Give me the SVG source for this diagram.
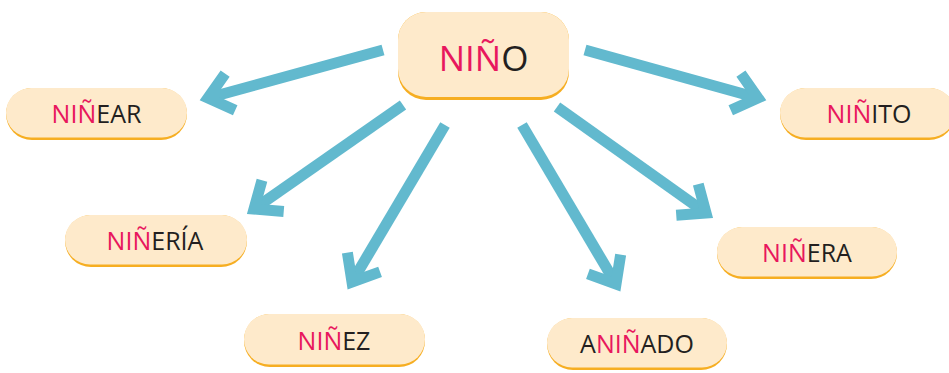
<svg xmlns="http://www.w3.org/2000/svg" width="949" height="373" viewBox="0 0 949 373">
  <style>
    .edge { fill: #F6AE22; }
    .box { fill: #FEEACB; }
    .lbl { font-family: "Open Sans", "Noto Sans", "Liberation Sans", sans-serif; font-size: 25px; fill: #231F20; text-anchor: middle; }
    .big { font-size: 35px; }
    .r { fill: #E8175D; }
    .arrow { fill: none; stroke: #62B9CE; stroke-width: 11; stroke-linejoin: miter; stroke-miterlimit: 10; stroke-linecap: butt; }
  </style>
  <defs>
    <marker id="head" markerUnits="userSpaceOnUse" orient="auto" markerWidth="60" markerHeight="60" refX="0" refY="0" viewBox="-40 -30 60 60" overflow="visible">
      <path d="M -23 -19 L 0 0 L -23 19" fill="none" stroke="#62B9CE" stroke-width="11" stroke-linejoin="miter" stroke-miterlimit="10"/>
    </marker>
  </defs>
  <rect width="949" height="373" fill="#FFFFFF"/>

  <g id="connectors">
    <path class="arrow" d="M 383 50 L 208 98" marker-end="url(#head)"/>
    <path class="arrow" d="M 403 105 L 254 209" marker-end="url(#head)"/>
    <path class="arrow" d="M 445 125 L 352 282" marker-end="url(#head)"/>
    <path class="arrow" d="M 522 125 L 616 284" marker-end="url(#head)"/>
    <path class="arrow" d="M 557 107 L 706 213" marker-end="url(#head)"/>
    <path class="arrow" d="M 585 50 L 758 98" marker-end="url(#head)"/>
  </g>

  <g id="nino">
    <rect class="edge" x="398" y="12" width="171" height="88" rx="28"/>
    <rect class="box" x="398" y="12" width="171" height="85" rx="28"/>
    <text class="lbl big" x="483.5" y="71"><tspan class="r">NIÑ</tspan>O</text>
  </g>

  <g id="ninear">
    <rect class="edge" x="6" y="88" width="181" height="52" rx="26"/>
    <rect class="box" x="6" y="88" width="181" height="49.5" rx="25"/>
    <text class="lbl" x="96.5" y="123"><tspan class="r">NIÑ</tspan>EAR</text>
  </g>

  <g id="ninito">
    <rect class="edge" x="780" y="88" width="175" height="52" rx="26"/>
    <rect class="box" x="780" y="88" width="175" height="49.5" rx="25"/>
    <text class="lbl" x="869" y="123"><tspan class="r">NIÑ</tspan>ITO</text>
  </g>

  <g id="nineria">
    <rect class="edge" x="65" y="215" width="182" height="52" rx="26"/>
    <rect class="box" x="65" y="215" width="182" height="49.5" rx="25"/>
    <text class="lbl" x="155" y="250"><tspan class="r">NIÑ</tspan>ERÍA</text>
  </g>

  <g id="ninera">
    <rect class="edge" x="717" y="227" width="180" height="52" rx="26"/>
    <rect class="box" x="717" y="227" width="180" height="49.5" rx="25"/>
    <text class="lbl" x="807" y="262"><tspan class="r">NIÑ</tspan>ERA</text>
  </g>

  <g id="ninez">
    <rect class="edge" x="244" y="314" width="181" height="53" rx="26"/>
    <rect class="box" x="244" y="314" width="181" height="50.5" rx="25"/>
    <text class="lbl" x="334" y="350"><tspan class="r">NIÑ</tspan>EZ</text>
  </g>

  <g id="aninado">
    <rect class="edge" x="547" y="318" width="180" height="52" rx="26"/>
    <rect class="box" x="547" y="318" width="180" height="49.5" rx="25"/>
    <text class="lbl" x="637" y="353">A<tspan class="r">NIÑ</tspan>ADO</text>
  </g>
</svg>
